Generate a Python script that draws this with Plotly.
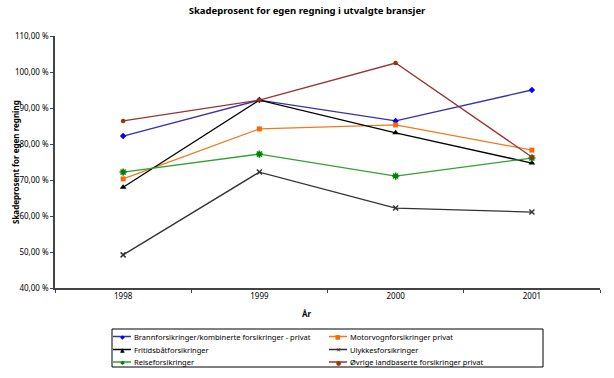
import plotly.graph_objects as go

years = ["1998", "1999", "2000", "2001"]
brann = [82.2, 92.2, 86.4, 95.0]
motorvogn = [70.3, 84.2, 85.3, 78.3]
fritidsbat = [68.0, 92.2, 83.1, 74.7]
ulykkes = [49.2, 72.2, 62.2, 61.1]
reise = [72.2, 77.2, 71.1, 76.1]
ovrige = [86.4, 92.2, 102.5, 76.4]

names = [
    "Brannforsikringer/kombinerte forsikringer - privat",
    "Motorvognforsikringer privat",
    "Fritidsbåtforsikringer",
    "Ulykkesforsikringer",
    "Reiseforsikringer",
    "Øvrige landbaserte forsikringer privat",
]
series = [brann, motorvogn, fritidsbat, ulykkes, reise, ovrige]
line_colors = ["#3333AA", "#F07A1A", "#000000", "#333333", "#33A033", "#993333"]
marker_colors = ["#0000FF", "#FF6600", "#000000", "#333333", "#008000", "#993300"]
symbols = ["diamond", "square", "triangle-up", "x-thin", "asterisk", "circle"]
glyphs = ["◆", "■", "▲", "✕", "✱", "●"]
sizes = [5, 5, 6, 5, 6, 4.5]

W, H = 614, 378
L, R, T, B = 55, 14, 36, 90
PW, PH = W - L - R, H - T - B


def px(xp):
    return (xp - L) / PW


def py(yp):
    return (H - B - yp) / PH


FONT = "Noto Sans"
fig = go.Figure()
for name, vals, lc, mc, sym, sz in zip(names, series, line_colors, marker_colors, symbols, sizes):
    marker = dict(symbol=sym, size=sz, color=mc)
    if sym in ("x-thin", "asterisk"):
        marker["line"] = dict(color=mc, width=1.5)
    fig.add_trace(go.Scatter(
        x=years, y=vals, name=name, mode="lines+markers", showlegend=False,
        line=dict(color=lc, width=1.3), marker=marker,
    ))

annotations = [
    dict(text="<b>Skadeprosent for egen regning</b>", xref="paper", yref="paper",
         x=px(15), y=py(162), textangle=-90, showarrow=False,
         xanchor="center", yanchor="middle", font=dict(family=FONT, size=8)),
    dict(text="<b>År</b>", xref="paper", yref="paper",
         x=px(307), y=py(313), showarrow=False,
         xanchor="center", yanchor="middle", font=dict(family=FONT, size=8)),
]
shapes = [
    dict(type="rect", xref="paper", yref="paper",
         x0=px(112), x1=px(543), y0=py(329), y1=py(367),
         line=dict(color="#000000", width=1), fillcolor="white", layer="below"),
]
col_x = [113, 329]
row_y = [336.5, 349.5, 362]
for i, (name, lc, mc, g) in enumerate(zip(names, line_colors, marker_colors, glyphs)):
    cx = col_x[i % 2]
    ry = row_y[i // 2]
    shapes.append(dict(type="line", xref="paper", yref="paper",
                       x0=px(cx), x1=px(cx + 18), y0=py(ry), y1=py(ry),
                       line=dict(color=lc, width=1.5)))
    annotations.append(dict(text=g, xref="paper", yref="paper", x=px(cx + 9), y=py(ry),
                            showarrow=False, xanchor="center", yanchor="middle",
                            font=dict(family="DejaVu Sans", size=6, color=mc)))
    annotations.append(dict(text=name, xref="paper", yref="paper", x=px(cx + 19), y=py(ry),
                            showarrow=False, xanchor="left", yanchor="middle",
                            font=dict(family=FONT, size=7.5)))

fig.update_layout(
    width=W, height=H,
    margin=dict(l=L, r=R, t=T, b=B, autoexpand=False),
    paper_bgcolor="white", plot_bgcolor="white",
    separators=", ",
    font=dict(family=FONT, size=8, color="#000000"),
    title=dict(text="<b>Skadeprosent for egen regning i utvalgte bransjer</b>",
               x=0.5, xanchor="center", y=1 - 11 / H, yanchor="middle",
               font=dict(family=FONT, size=9.5)),
    showlegend=False,
    annotations=annotations,
    shapes=shapes,
    xaxis=dict(type="category", range=[-0.5, 3.5], showline=True, linecolor="#444444", linewidth=1.5,
               ticks="outside", tickson="boundaries", ticklen=3, tickcolor="#444444",
               showgrid=False, zeroline=False),
    yaxis=dict(range=[40, 110], dtick=10, tickformat=".2f", ticksuffix=" %",
               showline=True, linecolor="#444444", linewidth=1.5,
               ticks="outside", ticklen=3, tickcolor="#444444",
               showgrid=False, zeroline=False),
)

fig.write_html("out.html", config={"displayModeBar": False},
               post_script="document.body.style.margin='0';document.body.style.overflow='hidden';")
